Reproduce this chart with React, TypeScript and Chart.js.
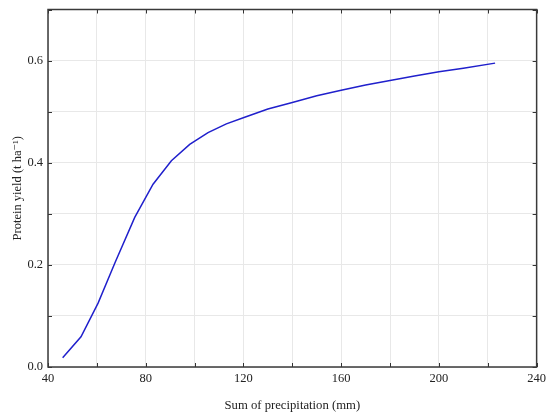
import React, { useEffect, useRef } from "react";
import { Chart, registerables } from "chart.js";

Chart.register(...registerables);

const precipitation = [46, 53.5, 60.5, 67.5, 75.5, 83, 90.5, 98, 105.5, 113, 120.5, 130, 140, 150, 160, 170, 180, 190, 200, 210, 223];
const proteinYield = [0.018, 0.059, 0.125, 0.205, 0.293, 0.358, 0.404, 0.436, 0.459, 0.476, 0.489, 0.505, 0.518, 0.531, 0.542, 0.552, 0.561, 0.570, 0.578, 0.585, 0.595];
const xLabelTicks = [40, 80, 120, 160, 200, 240];
const yLabelTicks = [0, 0.2, 0.4, 0.6];

const FONT = "'Liberation Serif', 'DejaVu Serif', serif";

const framePlugin = {
  id: "frameTicks",
  afterDatasetsDraw(chart: any) {
    const { ctx, chartArea, scales } = chart;
    const { left, right, top, bottom } = chartArea;
    ctx.save();
    ctx.strokeStyle = "#333333";
    ctx.lineWidth = 1;
    const tl = 4;
    scales.x.ticks.forEach((t: any) => {
      const px = Math.round(scales.x.getPixelForValue(t.value)) + 0.5;
      ctx.beginPath();
      ctx.moveTo(px, bottom);
      ctx.lineTo(px, bottom - tl);
      ctx.moveTo(px, top);
      ctx.lineTo(px, top + tl);
      ctx.stroke();
    });
    scales.y.ticks.forEach((t: any) => {
      const py = Math.round(scales.y.getPixelForValue(t.value)) + 0.5;
      ctx.beginPath();
      ctx.moveTo(left, py);
      ctx.lineTo(left + tl, py);
      ctx.moveTo(right, py);
      ctx.lineTo(right - tl, py);
      ctx.stroke();
    });
    ctx.lineWidth = 1.5;
    ctx.strokeStyle = "#3a3a3a";
    ctx.strokeRect(left, top, right - left, bottom - top);
    ctx.restore();
  },
};

export default function App() {
  const ref = useRef<HTMLCanvasElement>(null);
  useEffect(() => {
    if (!ref.current) return;
    const chart = new Chart(ref.current, {
      type: "line",
      data: {
        datasets: [
          {
            data: precipitation.map((x, i) => ({ x, y: proteinYield[i] })),
            borderColor: "#2020cc",
            borderWidth: 1.5,
            pointRadius: 0,
            tension: 0,
            fill: false,
          },
        ],
      },
      options: {
        animation: false,
        responsive: false,
        maintainAspectRatio: false,
        layout: { padding: { top: 9.5, right: 12, left: 10, bottom: 0 } },
        plugins: { legend: { display: false }, tooltip: { enabled: false } },
        scales: {
          x: {
            type: "linear",
            min: 40,
            max: 240,
            afterFit(s: any) { s.height = 46; },
            ticks: {
              stepSize: 20,
              autoSkip: false,
              maxRotation: 0,
              padding: 4,
              color: "#222",
              font: { family: FONT, size: 12.5 },
              callback: (v: any) => (xLabelTicks.includes(Number(v)) ? String(v) : ""),
            },
            grid: { color: "#e8e8e8", lineWidth: 1, drawTicks: false },
            border: { display: false },
            title: {
              display: true,
              text: "Sum of precipitation (mm)",
              color: "#222",
              font: { family: FONT, size: 12.7 },
              padding: { top: 3, bottom: 0 },
            },
          },
          y: {
            type: "linear",
            min: 0,
            max: 0.7,
            afterFit(s: any) { s.width = 38; s.paddingTop = 0; },
            ticks: {
              stepSize: 0.1,
              autoSkip: false,
              padding: 5,
              color: "#222",
              font: { family: FONT, size: 12.5 },
              callback: (v: any) => {
                const n = Math.round(Number(v) * 10) / 10;
                return yLabelTicks.some((t) => Math.abs(t - n) < 1e-6) ? n.toFixed(1) : "";
              },
            },
            grid: { color: "#e8e8e8", lineWidth: 1, drawTicks: false },
            border: { display: false },
            title: {
              display: true,
              text: "Protein yield (t ha⁻¹)",
              color: "#222",
              font: { family: FONT, size: 12.5 },
              padding: { top: 0, bottom: 4 },
            },
          },
        },
      },
      plugins: [framePlugin],
    });
    return () => chart.destroy();
  }, []);
  return (
    <div style={{ position: "fixed", left: 0, top: 0, width: 550, height: 413, background: "#fff" }}>
      <canvas ref={ref} width={550} height={413} />
    </div>
  );
}
